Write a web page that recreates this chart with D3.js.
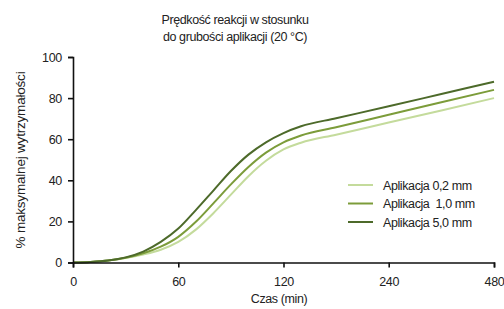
<!DOCTYPE html>
<html>
<head>
<meta charset="utf-8">
<script src="https://cdn.jsdelivr.net/npm/d3@7"></script>
<style>
  body { margin: 0; background: #fff; }
  svg text { font-family: "Liberation Sans", Arial, sans-serif; fill: #222; }
</style>
</head>
<body>
<svg width="504" height="309"></svg>
<script>
var svg = d3.select("svg");

// data
var times = [0, 10, 20, 30, 40, 50, 60, 70, 80, 90, 100, 110, 120, 140, 180, 240, 360, 480];
var thin   = [0, 0.3, 1, 2.2, 3.9, 6.2, 10, 16, 24, 33, 42, 49.5, 55, 58.3, 62.2, 68.1, 74, 80];
var medium = [0, 0.3, 1, 2.3, 4.5, 7.7, 12.5, 19.8, 28.8, 38, 46.5, 53.5, 58.5, 61.8, 65.8, 71.9, 78, 84];
var thick  = [0, 0.3, 1, 2.5, 5.3, 10, 16.5, 25.5, 35, 44.5, 52.5, 58.5, 63, 66.3, 70.2, 76, 82, 88];
var seriesNames = ["Aplikacja 0,2 mm", "Aplikacja  1,0 mm", "Aplikacja 5,0 mm"];
var seriesColors = ["#c4db9c", "#7c9c3a", "#4d6a2a"];
var xTicks = [0, 60, 120, 240, 480];
var yTicks = [0, 20, 40, 60, 80, 100];

var series = [thin, medium, thick];

// x axis is piecewise: equal spacing between 0,60,120,240,480
var x = d3.scaleLinear()
    .domain(xTicks)
    .range([73, 178.3, 283.5, 388.7, 494]);

var y = d3.scaleLinear()
    .domain([0, 100])
    .range([262.5, 57]);

// title
var title = svg.append("text")
    .attr("x", 235)
    .attr("y", 24)
    .attr("text-anchor", "middle")
    .style("font-size", "12.5px")
    .style("letter-spacing", "-0.4px");
title.append("tspan").attr("x", 235).attr("dy", 0).text("Prędkość reakcji w stosunku");
title.append("tspan").attr("x", 235).attr("dy", 16.5).text("do grubości aplikacji (20 °C)");

// lines
var line = d3.line()
    .x(function(d, i) { return x(times[i]); })
    .y(function(d) { return y(d); })
    .curve(d3.curveMonotoneX);

svg.append("g")
  .selectAll("path")
  .data(series)
  .enter().append("path")
    .attr("fill", "none")
    .attr("stroke", function(d, i) { return seriesColors[i]; })
    .attr("stroke-width", 2)
    .attr("d", line);

// y axis
var gy = svg.append("g")
    .attr("transform", "translate(" + x(0) + ",0)")
    .call(d3.axisLeft(y).tickValues(yTicks).tickSize(5).tickPadding(6));
gy.select(".domain").attr("stroke", "#111").attr("stroke-width", 1.6);
gy.selectAll(".tick line").attr("stroke", "#111").attr("stroke-width", 1.6);
gy.selectAll("text").style("font-size", "12.5px").style("letter-spacing", "-0.3px");

// x axis
var gx = svg.append("g")
    .attr("transform", "translate(0," + y(0) + ")")
    .call(d3.axisBottom(x).tickValues(xTicks).tickFormat(d3.format("d")).tickSize(5).tickPadding(10));
gx.select(".domain").attr("stroke", "#111").attr("stroke-width", 1.6);
gx.selectAll(".tick line").attr("stroke", "#111").attr("stroke-width", 1.6);
gx.selectAll("text").style("font-size", "12.5px").style("letter-spacing", "-0.3px");

// axis labels
svg.append("text")
    .attr("x", 279)
    .attr("y", 303)
    .attr("text-anchor", "middle")
    .style("font-size", "12.5px")
    .style("letter-spacing", "-0.4px")
    .text("Czas (min)");

svg.append("text")
    .attr("transform", "translate(25,160) rotate(-90)")
    .attr("text-anchor", "middle")
    .style("font-size", "13.5px")
    .style("letter-spacing", "-0.2px")
    .text("% maksymalnej wytrzymałości");

// legend
var legend = svg.append("g")
  .selectAll("g")
  .data(seriesNames)
  .enter().append("g")
    .attr("transform", function(d, i) { return "translate(348," + (185 + i * 18.5) + ")"; });

legend.append("line")
    .attr("x1", 0).attr("x2", 25)
    .attr("stroke", function(d, i) { return seriesColors[i]; })
    .attr("stroke-width", 2);

legend.append("text")
    .attr("x", 35)
    .attr("y", 4.5)
    .style("font-size", "12.5px")
    .style("letter-spacing", "-0.4px")
    .style("white-space", "pre")
    .text(function(d) { return d; });
</script>
</body>
</html>
